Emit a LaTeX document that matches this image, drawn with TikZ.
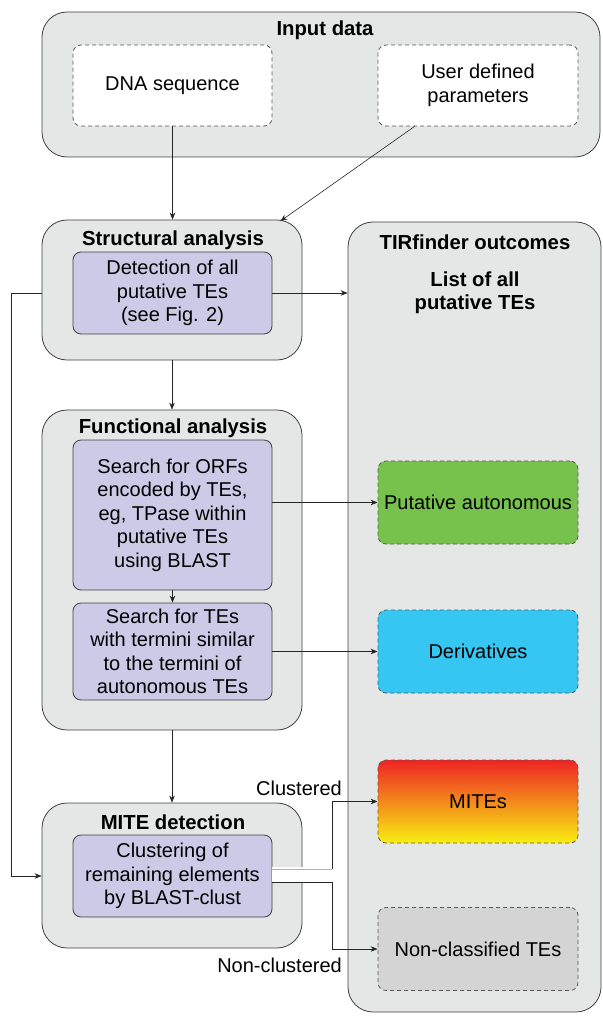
\documentclass[tikz,border=0pt]{standalone}
\usepackage{fontspec}
\setmainfont{Liberation Sans}
\usetikzlibrary{arrows.meta,calc}
\definecolor{boxgray}{HTML}{E5E6E6}
\definecolor{lav}{HTML}{CCCAE6}
\definecolor{autogreen}{HTML}{77C14D}
\definecolor{derivblue}{HTML}{35C6F2}
\definecolor{mitered}{HTML}{EE2424}
\definecolor{miteyellow}{HTML}{F8EE12}
\definecolor{ncgray}{HTML}{D4D4D4}
\tikzset{
  txt/.style={font=\fontsize{20}{23.5}\selectfont, align=center},
  ttl/.style={font=\bfseries\fontsize{20.3}{23.5}\selectfont, align=center, inner sep=0pt},
  outer/.style={draw=black!75, fill=boxgray, rounded corners=25pt, line width=0.8pt, inner sep=0pt},
  inner/.style={txt, draw=black!75, fill=lav, rounded corners=8pt, line width=0.8pt, inner sep=0pt},
  dashbox/.style={txt, draw=black!65, dashed, dash pattern=on 4pt off 3pt, rounded corners=8pt, line width=0.8pt, inner sep=0pt, minimum width=200pt, minimum height=83pt},
  arr/.style={-{Stealth[length=7pt,width=5.5pt]}, line width=0.6pt, draw=black!85},
}
\begin{document}
\begin{tikzpicture}[x=1pt,y=-1pt]
\useasboundingbox (0,0) rectangle (602,1016);
% input
\node[outer, minimum width=558pt, minimum height=145pt] (input) at (321,84.5) {};
\node[ttl] (inputt) at (325,30) {Input data};
\node[dashbox, fill=white, minimum width=199pt, minimum height=81pt] (dna) at (172.5,85.5) {DNA sequence};
\node[dashbox, fill=white, minimum width=200pt, minimum height=81pt] (user) at (478,85.5) {User defined\\parameters};
% structural
\node[outer, minimum width=260pt, minimum height=140pt] (struct) at (172,290) {};
\node[ttl] (structt) at (173,240) {Structural analysis};
\node[inner, minimum width=199pt, minimum height=82pt] (detect) at (172.5,293) {Detection of all\\putative TEs\\(see Fig. 2)};
% functional
\node[outer, minimum width=260pt, minimum height=320pt] (func) at (172,570) {};
\node[ttl] (funct) at (173,428) {Functional analysis};
\node[inner, minimum width=199pt, minimum height=150pt, text depth=4pt] (orf) at (172.5,515) {Search for ORFs\\encoded by TEs,\\eg, TPase within\\putative TEs\\using BLAST};
\node[inner, minimum width=199pt, minimum height=97pt] (search) at (172.5,651.5) {Search for TEs\\with termini similar\\to the termini of\\autonomous TEs};
% mite
\node[outer, minimum width=260pt, minimum height=145pt] (mite) at (172,875.5) {};
\node[ttl] (mitet) at (173,822) {MITE detection};
\node[inner, minimum width=199pt, minimum height=82pt] (clust) at (172.5,876) {Clustering of\\remaining elements\\by BLAST-clust};
% outcomes
\node[outer, minimum width=253pt, minimum height=790pt] (out) at (474.5,617) {};
\node[ttl] (outt) at (475,242) {TIRfinder outcomes};
\node[ttl] (list) at (475,293) {List of all\\putative TEs};
\node[dashbox, fill=autogreen] (auto) at (478,502.5) {Putative autonomous};
\node[dashbox, fill=derivblue] (deriv) at (478,651.5) {Derivatives};
\node[dashbox, top color=mitered, bottom color=miteyellow] (mites) at (478,801.5) {MITEs};
\node[dashbox, fill=ncgray] (nonc) at (478,949) {Non-classified TEs};
% connectors
\draw[arr] (dna.south) -- (dna.south |- struct.north);
\coordinate (ustart) at ($(user.south west)+(37,0)$);
\coordinate (uend) at ($(struct.north east)+(-22,1.5)$);
\draw[arr] (ustart) -- (uend);
\draw[arr] (detect.east) -- (detect.east -| out.west);
\coordinate (sleft) at (detect.west -| struct.west);
\draw[arr] (sleft) -- ++(-30,0) |- (clust.west -| mite.west);
\draw[arr] (struct.south) -- (func.north);
\draw[arr] (orf.east |- auto.west) -- (auto.west);
\draw[arr] (orf.south) -- (search.north);
\draw[arr] (search.east) -- (search.east -| deriv.west);
\draw[arr] (func.south) -- (mite.north);
% MITE outputs
\coordinate (c1) at ($(clust.east)+(0,-7)$);
\coordinate (c2) at ($(clust.east)+(60,-7)$);
\coordinate (n1) at ($(clust.east)+(0,6)$);
\fill[white] ($(clust.east)+(0,-9)$) rectangle ($(clust.east)+(60,6)$);
\draw[black!30, line width=0.6pt] (c1) -- (c2);
\draw[arr] (c2) |- (mites.west);
\draw[arr] (n1) -- ++(60,0) |- (nonc.west);
\node[txt, anchor=east, inner sep=0pt] (lclu) at (342,788) {Clustered};
\node[txt, anchor=east, inner sep=0pt] (lnon) at (342,965) {Non-clustered};
\end{tikzpicture}
\end{document}
